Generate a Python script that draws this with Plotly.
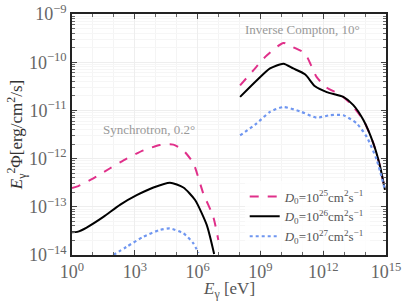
import plotly.graph_objects as go

# Synchrotron component (log10 E [eV], log10 E^2 Phi)
syn_logE_25 = [0.0, 0.30, 1.02, 1.82, 2.61, 3.41, 4.20, 4.84, 5.32, 5.80, 6.27, 6.75, 6.99]
syn_logF_25 = [-12.61, -12.57, -12.41, -12.20, -12.00, -11.83, -11.72, -11.71, -11.83, -12.10, -12.72, -13.21, -13.69]
syn_logE_26 = [0.0, 0.25, 0.70, 1.50, 2.29, 3.09, 3.89, 4.68, 5.32, 5.88, 6.44, 6.79]
syn_logF_26 = [-13.53, -13.52, -13.43, -13.21, -12.96, -12.76, -12.60, -12.50, -12.60, -12.86, -13.38, -13.98]
syn_logE_27 = [1.97, 2.61, 3.41, 4.20, 4.68, 5.32, 5.80, 6.04]
syn_logF_27 = [-14.0, -13.83, -13.62, -13.48, -13.45, -13.55, -13.76, -13.96]

# Inverse Compton component
ic_logE_25 = [8.03, 8.66, 9.30, 10.10, 10.57, 11.13, 11.69, 12.17, 12.80, 13.28, 13.92, 14.40, 14.72, 14.95]
ic_logF_25 = [-10.48, -10.17, -9.86, -9.60, -9.69, -9.82, -10.31, -10.53, -10.67, -10.85, -11.20, -11.69, -12.17, -12.65]
ic_logE_26 = [8.03, 8.82, 9.46, 10.10, 10.57, 11.13, 11.61, 12.17, 12.96, 13.44, 13.92, 14.40, 14.72, 14.95]
ic_logF_26 = [-10.72, -10.38, -10.13, -10.03, -10.13, -10.25, -10.50, -10.62, -10.72, -10.89, -11.20, -11.69, -12.17, -12.65]
ic_logE_27 = [8.03, 8.82, 9.46, 10.10, 10.89, 11.69, 12.33, 12.96, 13.60, 14.08, 14.56, 14.95]
ic_logF_27 = [-11.52, -11.27, -11.03, -10.93, -11.02, -11.15, -11.10, -11.10, -11.27, -11.55, -12.03, -12.65]

x_tick_exp = [0, 3, 6, 9, 12, 15]
y_tick_exp = [-14, -13, -12, -11, -10, -9]

labels = ["<i>D</i><sub>0</sub>=10<sup>25</sup>cm<sup>2</sup>s<sup>−1</sup>",
          "<i>D</i><sub>0</sub>=10<sup>26</sup>cm<sup>2</sup>s<sup>−1</sup>",
          "<i>D</i><sub>0</sub>=10<sup>27</sup>cm<sup>2</sup>s<sup>−1</sup>"]
colors = ["#e0308a", "#000000", "#6f96f0"]
dashes = ["dash", "solid", "dot"]

series = [
    (syn_logE_25, syn_logF_25, ic_logE_25, ic_logF_25),
    (syn_logE_26, syn_logF_26, ic_logE_26, ic_logF_26),
    (syn_logE_27, syn_logF_27, ic_logE_27, ic_logF_27),
]

fig = go.Figure()
for i, (sx, sy, ix, iy) in enumerate(series):
    xs = [10 ** v for v in sx] + [None] + [10 ** v for v in ix]
    ys = [10 ** v for v in sy] + [None] + [10 ** v for v in iy]
    fig.add_trace(go.Scatter(
        x=xs, y=ys, mode="lines", name=labels[i],
        line=dict(color=colors[i], dash=dashes[i], width=2 if i != 2 else 2.2, shape="spline", smoothing=0.6),
        connectgaps=False,
    ))

font_family = "Liberation Serif, DejaVu Serif, serif"
axis_common = dict(
    type="log", showline=True, linecolor="#222", linewidth=1.5, mirror="ticks",
    ticks="inside", ticklen=5, tickcolor="#444", showgrid=True, gridcolor="#eeeeee",
    tickfont=dict(family=font_family, size=18, color="#666"),
    zeroline=False, automargin=False,
)

def sup_labels(exps):
    return ["10<sup>%s</sup>" % (str(e).replace("-", "−")) for e in exps]

x_minor = [10.0 ** e for e in range(0, 16)]
y_minor = [k * 10.0 ** e for e in range(-14, -9) for k in range(2, 10)]

fig.update_xaxes(**axis_common, range=[0, 15],
                 tickvals=[10.0 ** e for e in x_tick_exp], ticktext=sup_labels(x_tick_exp),
                 minor=dict(ticks="inside", ticklen=3, tickcolor="#666", tickmode="array", tickvals=x_minor,
                            showgrid=True, gridcolor="#f4f4f4"))
fig.update_yaxes(**axis_common, range=[-14, -9],
                 tickvals=[10.0 ** e for e in y_tick_exp], ticktext=sup_labels(y_tick_exp),
                 minor=dict(ticks="inside", ticklen=3, tickcolor="#666", tickmode="array", tickvals=y_minor,
                            showgrid=True, gridcolor="#f6f6f6"),
                 title=dict(text="<i>E</i><sub>γ</sub><sup>2</sup>Φ[erg/cm<sup>2</sup>/s]", font=dict(family=font_family, size=17, color="#333"), standoff=0))

fig.add_annotation(x=0.5, y=-0.145, xref="paper", yref="paper", yanchor="middle",
                   text="<i>E</i><sub>γ</sub> [eV]", showarrow=False,
                   font=dict(family=font_family, size=17, color="#555"))
fig.add_annotation(x=11.0, y=-9.32, xref="x", yref="y", text="Inverse Compton, 10°", showarrow=False,
                   font=dict(family=font_family, size=13, color="#999"))
fig.add_annotation(x=3.7, y=-11.4, xref="x", yref="y", text="Synchrotron, 0.2°", showarrow=False,
                   font=dict(family=font_family, size=13, color="#999"))

fig.update_layout(
    width=407, height=305,
    margin=dict(l=72, r=21, t=14, b=50),
    paper_bgcolor="white", plot_bgcolor="white",
    showlegend=True,
    legend=dict(x=0.55, y=0.305, xanchor="left", yanchor="top", bgcolor="rgba(255,255,255,0.8)",
                font=dict(family=font_family, size=13, color="#555"), tracegroupgap=0,
                itemwidth=30),
)

fig.write_html("out.html", config={"displayModeBar": False},
               post_script="document.body.style.margin='0px';")
